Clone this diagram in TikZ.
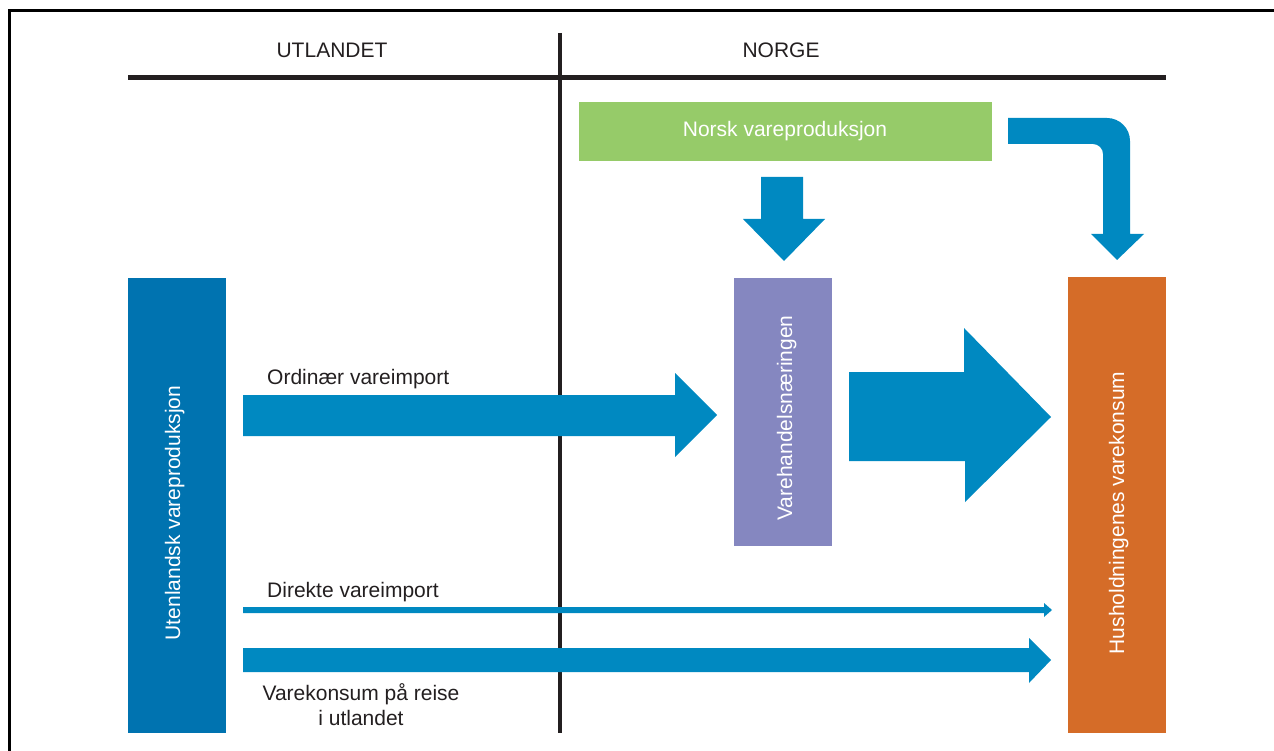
\documentclass[tikz,border=0pt]{standalone}
\usepackage{fontspec}
\setmainfont{Liberation Sans}
\definecolor{arrowblue}{RGB}{0,137,193}
\definecolor{boxblue}{RGB}{0,115,176}
\definecolor{boxgreen}{RGB}{150,203,105}
\definecolor{boxpurple}{RGB}{133,135,192}
\definecolor{boxorange}{RGB}{213,108,40}
\definecolor{ink}{RGB}{35,31,32}
\begin{document}
\begin{tikzpicture}[x=1pt,y=-1pt,
  box/.style={draw=none,inner sep=0pt,anchor=north west},
  boxtext/.style={text=white,inner sep=0pt,font=\fontsize{21}{25}\selectfont},
  lbl/.style={text=ink,inner sep=0pt,font=\fontsize{21}{25}\selectfont},
  blockarrow/.style={fill=arrowblue,draw=none}]
\useasboundingbox (0,0) rectangle (1274,751);
\clip (0,0) rectangle (1274,751);
% frame
\draw[line width=3pt] (9.5,11) rectangle (1300,780);
% header
\coordinate (hl) at (128,77.5);
\coordinate (hr) at (1166,77.5);
\draw[ink,line width=4.5pt] (hl) -- (hr);
\coordinate (vt) at (559.5,33);
\coordinate (vb) at (559.5,733);
\draw[ink,line width=4pt] (vt) -- (vb);
\node[lbl,anchor=base] (utl) at (332,58) {UTLANDET};
\node[lbl,anchor=base] (nor) at (781,58) {NORGE};
% boxes
\node[box,fill=boxgreen,minimum width=413pt,minimum height=59pt] (nvp) at (579,102) {};
\node[boxtext,anchor=base] (nvpt) at (785,137) {Norsk vareproduksjon};
\node[box,fill=boxblue,minimum width=98pt,minimum height=455pt] (uvp) at (128,278) {};
\node[boxtext,anchor=base,rotate=90] (uvpt) at (180,513) {Utenlandsk vareproduksjon};
\node[box,fill=boxpurple,minimum width=98pt,minimum height=268pt] (vhn) at (734,278) {};
\node[boxtext,anchor=base,rotate=90] (vhnt) at (792,418) {Varehandelsnæringen};
\node[box,fill=boxorange,minimum width=98pt,minimum height=456pt] (hvk) at (1068,277) {};
\node[boxtext,anchor=base,rotate=90] (hvkt) at (1124,513) {Husholdningenes varekonsum};
% arrows
\fill[blockarrow] (761,177) -- (803,177) -- (803,219) -- (825,219) -- (784,261) -- (743,219) -- (761,219) -- cycle;
\fill[blockarrow] (1008,118) -- (1107,118) .. controls (1119.7,118) and (1130,128.3) .. (1130,141)
  -- (1130,234) -- (1144,234) -- (1117,260) -- (1091,234) -- (1103,234) -- (1103,154)
  .. controls (1103,148.5) and (1098.5,144) .. (1093,144) -- (1008,144) -- cycle;
\fill[blockarrow] (243,395) -- (675,395) -- (675,373) -- (717,415) -- (675,457) -- (675,436) -- (243,436) -- cycle;
\fill[blockarrow] (849,372) -- (964,372) -- (964,328) -- (1051,417) -- (965,502) -- (965,461) -- (849,461) -- cycle;
\fill[blockarrow] (243,607) -- (1044,607) -- (1044,603) -- (1052,610) -- (1044,617) -- (1044,613) -- (243,613) -- cycle;
\fill[blockarrow] (243,648) -- (1029,648) -- (1029,638) -- (1051,660) -- (1029,683) -- (1029,672) -- (243,672) -- cycle;
% labels
\node[lbl,anchor=base west] (ord) at (267,384) {Ordinær vareimport};
\node[lbl,anchor=base west] (dir) at (267,597) {Direkte vareimport};
\node[lbl,anchor=base] (vk1) at (361,700) {Varekonsum på reise};
\node[lbl,anchor=base] (vk2) at (361,725) {i utlandet};
\end{tikzpicture}
\end{document}
